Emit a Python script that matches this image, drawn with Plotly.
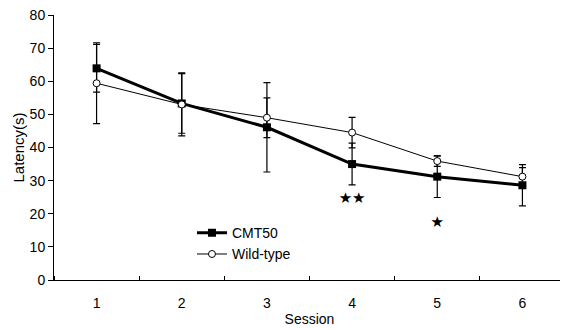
import plotly.graph_objects as go

sessions = [1, 2, 3, 4, 5, 6]
session_labels = ["1", "2", "3", "4", "5", "6"]
cmt50 = [63.9, 53.3, 46.1, 35.0, 31.2, 28.6]
cmt50_err = [7.2, 9.0, 13.5, 6.3, 6.3, 6.2]
wild = [59.4, 53.0, 49.0, 44.5, 35.9, 31.2]
wild_err = [12.2, 9.5, 6.0, 4.6, 1.6, 2.7]
sig_text = ["", "", "", "★★", "★", ""]
sig_y = [None, None, None, 24.5, 17.2, None]
y_ticks = [0, 10, 20, 30, 40, 50, 60, 70, 80]

FONT = "Liberation Sans Narrow, Liberation Sans, Arial, sans-serif"

fig = go.Figure()
fig.add_trace(go.Scatter(
    x=sessions, y=cmt50, name="CMT50", mode="lines+markers",
    line=dict(color="black", width=3),
    marker=dict(symbol="square", size=8, color="black"),
    error_y=dict(type="data", array=cmt50_err, color="black", thickness=1.2, width=3.5),
))
fig.add_trace(go.Scatter(
    x=sessions, y=wild, name="Wild-type", mode="lines+markers",
    line=dict(color="black", width=1),
    marker=dict(symbol="circle", size=7, color="white", line=dict(color="black", width=1)),
    error_y=dict(type="data", array=wild_err, color="black", thickness=1.2, width=3.5),
))
fig.add_trace(go.Scatter(
    x=sessions, y=sig_y, text=sig_text, mode="text", showlegend=False,
    textfont=dict(family="DejaVu Sans", size=15, color="black"),
    hoverinfo="skip",
))

fig.update_layout(
    width=560, height=321,
    margin=dict(l=46, r=3, t=7, b=49),
    paper_bgcolor="white", plot_bgcolor="white",
    font=dict(family=FONT, size=14, color="black"),
    showlegend=True,
    legend=dict(x=0.27, y=0.237, xanchor="left", yanchor="top",
                bgcolor="rgba(0,0,0,0)", font=dict(size=14, family=FONT),
                itemwidth=30, tracegroupgap=0),
    xaxis=dict(
        range=[0.5, 6.5], tickvals=sessions, ticktext=session_labels,
        ticks="", showline=True, linecolor="black", linewidth=1,
        showgrid=False, zeroline=False, ticklabelstandoff=10,
        minor=dict(ticks="inside", tick0=0.5, dtick=1, ticklen=4, tickcolor="black", showgrid=False),
        title=dict(text="Session", standoff=4, font=dict(size=14)),
        automargin=False,
    ),
    yaxis=dict(
        range=[0, 80], tickvals=y_ticks, ticks="outside", ticklen=5,
        tickcolor="black", showline=True, linecolor="black", linewidth=1,
        showgrid=False, zeroline=False, ticklabeloverflow="allow",
        title=dict(text="Latency(s)", standoff=1, font=dict(size=15)),
        automargin=False,
    ),
)

fig.write_html("out.html")
